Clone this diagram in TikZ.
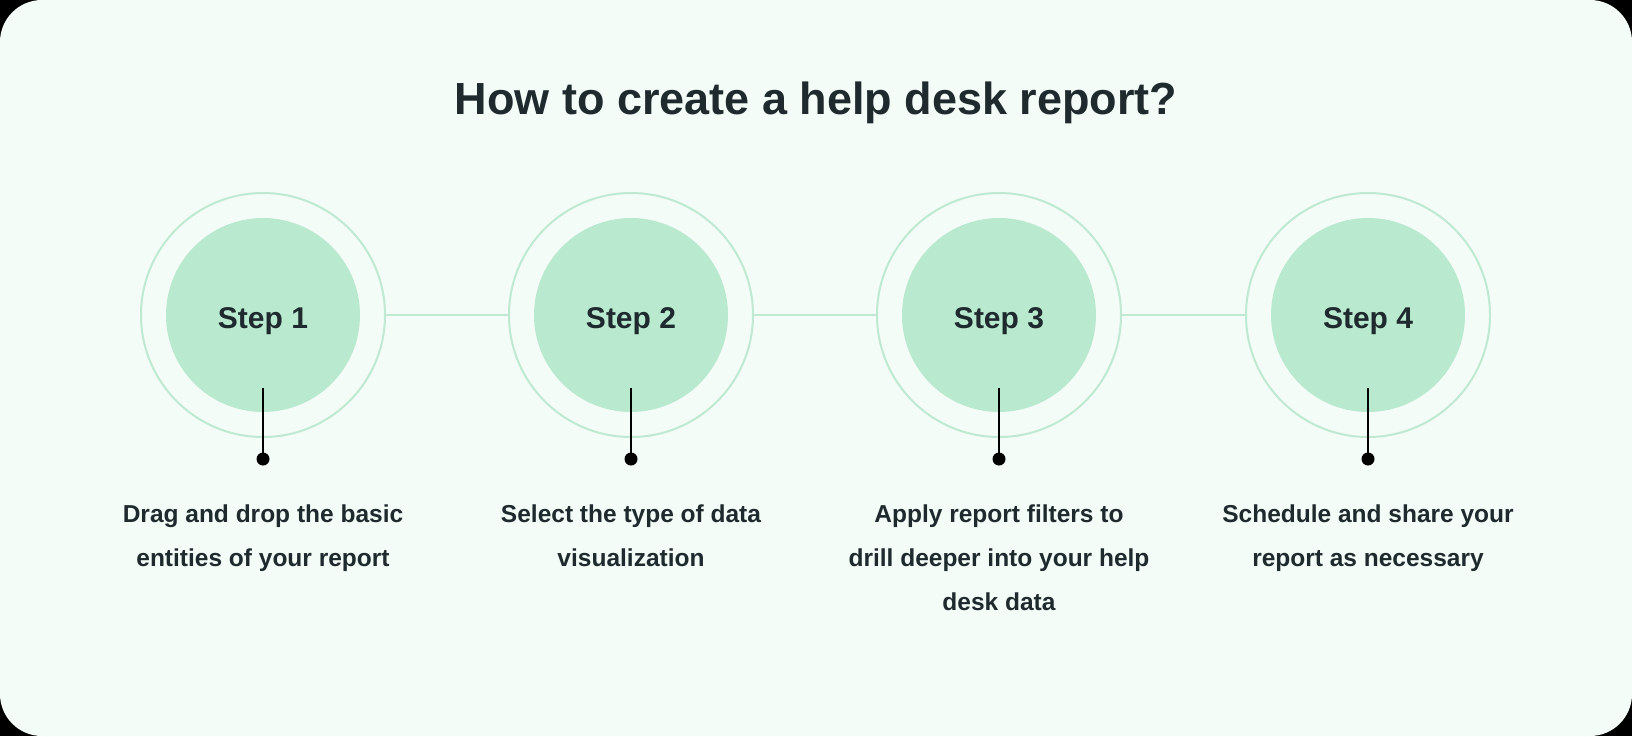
\documentclass[tikz,border=0pt]{standalone}
\usepackage{fontspec}
\setmainfont{Liberation Sans}
\definecolor{bg}{HTML}{F3FCF7}
\definecolor{ringc}{HTML}{BFE9D2}
\definecolor{fillc}{HTML}{B9E9CF}
\definecolor{txt}{HTML}{1F2A2E}
\begin{document}
\begin{tikzpicture}[x=1pt,y=-1pt,
  ring/.style={circle,draw=ringc,line width=2pt,minimum size=244pt,inner sep=0pt},
  disc/.style={circle,fill=fillc,minimum size=194pt,inner sep=0pt,font=\bfseries\fontsize{30}{36}\selectfont,text=txt},
  lbl/.style={font=\bfseries\fontsize{30}{36}\selectfont,text=txt},
  desc/.style={align=center,font=\bfseries\fontsize{24.5}{44}\selectfont,text=txt,anchor=north},
  link/.style={draw=ringc,line width=2pt},
  stem/.style={draw=black,line width=2pt}]
\useasboundingbox (0,0) rectangle (1632,736);
\fill[black] (0,0) rectangle (1632,736);
\fill[bg,rounded corners=42pt] (0,0) rectangle (1632,736);
\node[font=\bfseries\fontsize{45}{54}\selectfont,text=txt] (title) at (816,103) {How to create a help desk report?};
\foreach \i/\x in {1/263,2/631,3/999,4/1368}{
  \node[ring] (r\i) at (\x,315) {};
  \node[disc] (c\i) at (\x,315) {};
  \node[lbl] (l\i) at (\x,321) {Step \i};
  \coordinate (s\i) at (\x,388);
  \coordinate (d\i) at (\x,459);
  \draw[stem] (s\i) -- (d\i);
  \fill[black] (d\i) circle (6.5pt);
}
\draw[link] (r1.east) -- (r2.west);
\draw[link] (r2.east) -- (r3.west);
\draw[link] (r3.east) -- (r4.west);
\node[desc] (t1) at (263,501) {Drag and drop the basic\\entities of your report};
\node[desc] (t2) at (631,501) {Select the type of data\\visualization};
\node[desc] (t3) at (999,501) {Apply report filters to\\drill deeper into your help\\desk data};
\node[desc] (t4) at (1368,501) {Schedule and share your\\report as necessary};
\end{tikzpicture}
\end{document}
